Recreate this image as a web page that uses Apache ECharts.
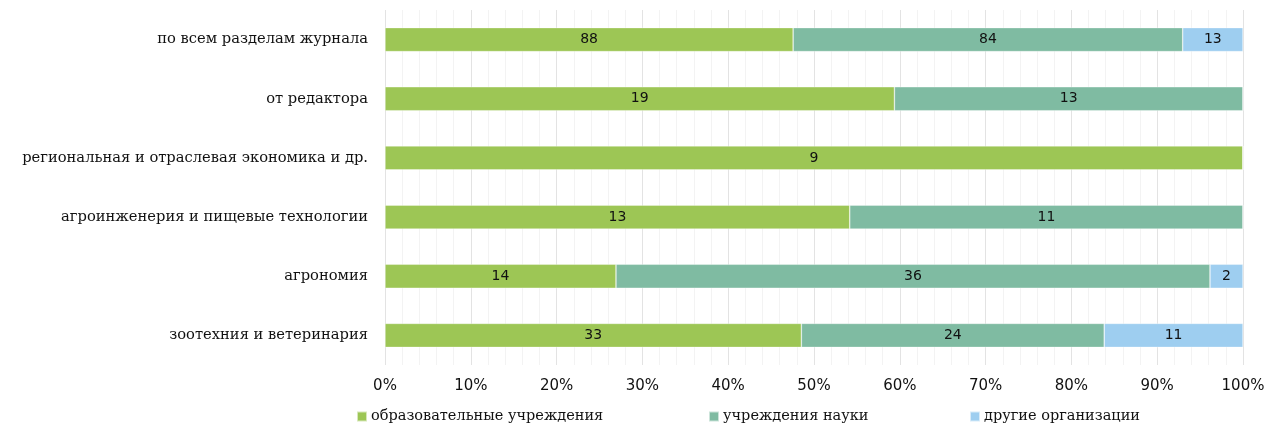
<!DOCTYPE html>
<html><head><meta charset="utf-8">
<script src="https://cdn.jsdelivr.net/npm/echarts@6/dist/echarts.min.js"></script>
<style>html,body{margin:0;padding:0;background:#fff}#c{width:1269px;height:428px}</style>
</head><body><div id="c"></div>
<script>
const categories = ['по всем разделам журнала','от редактора','региональная и отраслевая экономика и др.','агроинженерия и пищевые технологии','агрономия','зоотехния и ветеринария'];
const seriesNames = ['образовательные учреждения','учреждения науки','другие организации'];
const edu = [88, 19, 9, 13, 14, 33];
const sci = [84, 13, 0, 11, 36, 24];
const other = [13, 0, 0, 0, 2, 11];
const tickLabels = ['0%','10%','20%','30%','40%','50%','60%','70%','80%','90%','100%'];
const colors = ['#9DC655','#7FBBA2','#9ECEF0'];

const raw = [edu, sci, other];
const totals = categories.map((_, i) => edu[i] + sci[i] + other[i]);
const series = raw.map((arr, k) => ({
  name: seriesNames[k],
  type: 'bar',
  stack: 'total',
  barWidth: 24,
  itemStyle: {color: colors[k], borderColor: 'rgba(255,255,255,0.6)', borderWidth: 0.6},
  label: {show: true, position: 'inside', color: '#111', fontFamily: 'DejaVu Sans', fontSize: 14,
    formatter: p => p.data.raw ? String(p.data.raw) : ''},
  data: arr.map((v, i) => ({value: v / totals[i] * 100, raw: v}))
}));

const legendLefts = [356, 708, 969];
const chart = echarts.init(document.getElementById('c'));
chart.setOption({
  animation: false,
  color: colors,
  grid: {left: 385, right: 26, top: 10, bottom: 63, containLabel: false},
  xAxis: {
    type: 'value', min: 0, max: 100, interval: 10,
    axisLine: {show: false}, axisTick: {show: false},
    axisLabel: {color: '#111', fontFamily: 'DejaVu Sans', fontSize: 15, margin: 14,
      formatter: v => tickLabels[Math.round(v / 10)]},
    splitLine: {show: true, lineStyle: {color: '#e3e3e3', width: 1}},
    minorTick: {show: false, splitNumber: 5},
    minorSplitLine: {show: true, lineStyle: {color: '#f3f3f3', width: 1}}
  },
  yAxis: {
    type: 'category', data: categories, inverse: true,
    axisLine: {show: false}, axisTick: {show: false},
    axisLabel: {color: '#111', fontFamily: 'DejaVu Serif', fontSize: 14.7, margin: 17, padding: [3,0,0,0]}
  },
  legend: seriesNames.map((n, k) => ({
    data: [n], left: legendLefts[k], top: 409, padding: 0, itemWidth: 10, itemHeight: 10, itemGap: 4,
    icon: 'rect', textStyle: {color: '#111', fontFamily: 'DejaVu Serif', fontSize: 14.5, padding: [0,0,0,-1]}
  })),
  series: series
});
</script></body></html>
